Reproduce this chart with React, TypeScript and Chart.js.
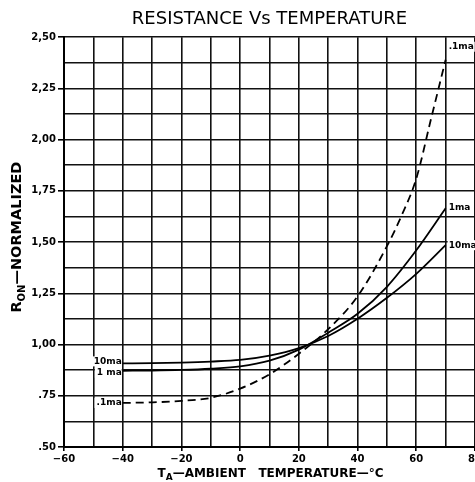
import React, { useEffect, useRef } from "react";
import { Chart, registerables } from "chart.js";

Chart.register(...registerables);

// ---- data ----
const temps = [-40, -30, -20, -10, 0, 10, 20, 30, 40, 50, 60, 70];
const r10ma = [0.908, 0.909, 0.912, 0.917, 0.925, 0.946, 0.983, 1.042, 1.126, 1.228, 1.345, 1.485];
const r1ma = [0.872, 0.873, 0.876, 0.882, 0.893, 0.921, 0.975, 1.058, 1.15, 1.282, 1.46, 1.665];
const tempsP1 = [-40, -30, -20, -10, 0, 10, 20, 30, 40, 50, 55, 60, 65, 70];
const rP1ma = [0.715, 0.718, 0.725, 0.74, 0.785, 0.855, 0.955, 1.075, 1.235, 1.48, 1.63, 1.81, 2.1, 2.39];

const leftLabels = ["10ma", "1 ma", ".1ma"];
const rightLabels = ["10ma", "1ma", ".1ma"];

const xTickValues = [-60, -40, -20, 0, 20, 40, 60, 80];
const xTickLabels = ["\u221260", "\u221240", "\u221220", "0", "20", "40", "60", "80"];
const yTickValues = [0.5, 0.75, 1, 1.25, 1.5, 1.75, 2, 2.25, 2.5];
const yTickLabels = [".50", ".75", "1,00", "1,25", "1,50", "1,75", "2,00", "2,25", "2,50"];

const titleText = "RESISTANCE Vs TEMPERATURE";
const xTitleMain = "T";
const xTitleSub = "A";
const xTitleRest = "\u2014AMBIENT   TEMPERATURE\u2014\u00B0C";
const yTitleMain = "R";
const yTitleSub = "ON";
const yTitleRest = "\u2014NORMALIZED";

const FONT = "'DejaVu Sans', sans-serif";

function findIdx(arr: number[], v: number) {
  return arr.findIndex((a) => Math.abs(a - v) < 1e-6);
}

function drawSubTitle(ctx: CanvasRenderingContext2D, main: string, sub: string, rest: string, size: number) {
  const bigFont = `bold ${size}px ${FONT}`;
  const smallFont = `bold ${Math.round(size * 0.72)}px ${FONT}`;
  ctx.font = bigFont;
  const w1 = ctx.measureText(main).width;
  const w3 = ctx.measureText(rest).width;
  ctx.font = smallFont;
  const w2 = ctx.measureText(sub).width;
  const total = w1 + w2 + w3;
  let x = -total / 2;
  ctx.textBaseline = "alphabetic";
  ctx.textAlign = "left";
  ctx.font = bigFont;
  ctx.fillText(main, x, size * 0.36);
  x += w1;
  ctx.font = smallFont;
  ctx.fillText(sub, x, size * 0.36 + size * 0.25);
  x += w2;
  ctx.font = bigFont;
  ctx.fillText(rest, x, size * 0.36);
}

const annotationPlugin = {
  id: "annotations",
  afterDraw(chart: any) {
    const { ctx, chartArea } = chart;
    ctx.save();
    ctx.fillStyle = "#000";
    // axis titles
    ctx.save();
    ctx.translate((chartArea.left + chartArea.right) / 2 + 1, 473);
    drawSubTitle(ctx, xTitleMain, xTitleSub, xTitleRest, 12);
    ctx.restore();
    ctx.save();
    ctx.translate(16, (chartArea.top + chartArea.bottom) / 2 - 5);
    ctx.rotate(-Math.PI / 2);
    drawSubTitle(ctx, yTitleMain, yTitleSub, yTitleRest, 14.5);
    ctx.restore();

    // curve labels
    const leftShift = [-2, 2, 0];
    const rightShift = [0, -1, -13];
    ctx.font = `bold 9px ${FONT}`;
    ctx.textBaseline = "middle";
    chart.data.datasets.forEach((_: any, i: number) => {
      const meta = chart.getDatasetMeta(i);
      const pts = meta.data;
      const first = pts[0];
      const last = pts[pts.length - 1];
      const lt = leftLabels[i];
      const lw = ctx.measureText(lt).width;
      const ly = first.y + leftShift[i];
      ctx.fillStyle = "#fff";
      ctx.fillRect(first.x - lw - 3, ly - 5, lw + 2, 10);
      ctx.fillStyle = "#000";
      ctx.textAlign = "right";
      ctx.fillText(lt, first.x - 1, ly);
      const rt = rightLabels[i];
      const rw = ctx.measureText(rt).width;
      const ry = last.y + rightShift[i];
      ctx.fillStyle = "#fff";
      ctx.fillRect(last.x + 2, ry - 5, rw + 2, 10);
      ctx.fillStyle = "#000";
      ctx.textAlign = "left";
      ctx.fillText(rt, last.x + 3, ry);
    });
    ctx.restore();
  },
};

export default function App() {
  const canvasRef = useRef<HTMLCanvasElement | null>(null);

  useEffect(() => {
    if (!canvasRef.current) return;
    const lineCommon = {
      pointRadius: 0,
      borderColor: "#000",
      borderWidth: 1.8,
      cubicInterpolationMode: "monotone" as const,
      fill: false,
    };
    const chart = new Chart(canvasRef.current, {
      type: "line",
      data: {
        datasets: [
          { ...lineCommon, label: "10ma", data: temps.map((t, i) => ({ x: t, y: r10ma[i] })) },
          { ...lineCommon, label: "1ma", data: temps.map((t, i) => ({ x: t, y: r1ma[i] })) },
          {
            ...lineCommon,
            label: ".1ma",
            borderDash: [8, 5],
            data: tempsP1.map((t, i) => ({ x: t, y: rP1ma[i] })),
          },
        ],
      },
      options: {
        animation: false,
        responsive: true,
        maintainAspectRatio: false,
        layout: { padding: { left: 0, right: 15, top: 0, bottom: 0 } },
        plugins: {
          legend: { display: false },
          tooltip: { enabled: false },
          title: {
            display: true,
            text: titleText,
            fullSize: false,
            color: "#000",
            font: { family: FONT, size: 18, weight: "normal", lineHeight: 1.1 },
            padding: { top: 9, bottom: 8.4 },
          },
        },
        scales: {
          x: {
            type: "linear",
            min: -60,
            max: 80,
            afterFit: (s: any) => {
              s.height = 35;
            },
            ticks: {
              stepSize: 10,
              autoSkip: false,
              maxRotation: 0,
              padding: 2,
              color: "#000",
              font: { family: FONT, size: 10, weight: "bold" },
              callback: (v: any) => {
                const i = findIdx(xTickValues, Number(v));
                return i >= 0 ? xTickLabels[i] : "";
              },
            },
            grid: {
              color: "#111",
              lineWidth: 1.6,
              tickLength: 4,
              tickColor: (c: any) => (findIdx(xTickValues, c.tick?.value) >= 0 ? "#000" : "rgba(0,0,0,0)"),
            },
            border: { display: true, color: "#000", width: 2 },
          },
          y: {
            type: "linear",
            min: 0.5,
            max: 2.5,
            afterFit: (s: any) => {
              s.width = 64;
            },
            ticks: {
              stepSize: 0.125,
              autoSkip: false,
              padding: 2,
              color: "#000",
              font: { family: FONT, size: 10, weight: "bold" },
              callback: (v: any) => {
                const i = findIdx(yTickValues, Number(v));
                return i >= 0 ? yTickLabels[i] : "";
              },
            },
            grid: {
              color: "#111",
              lineWidth: 1.6,
              tickLength: 6,
              tickColor: (c: any) => (findIdx(yTickValues, c.tick?.value) >= 0 ? "#000" : "rgba(0,0,0,0)"),
            },
            border: { display: true, color: "#000", width: 2 },
          },
        },
      },
      plugins: [annotationPlugin],
    });
    return () => chart.destroy();
  }, []);

  return (
    <div
      style={{
        position: "fixed",
        left: 0,
        top: 0,
        width: 475,
        height: 482,
        overflow: "hidden",
        background: "#fff",
      }}
    >
      <div style={{ position: "relative", width: 490, height: 482 }}>
        <canvas ref={canvasRef} />
      </div>
    </div>
  );
}
